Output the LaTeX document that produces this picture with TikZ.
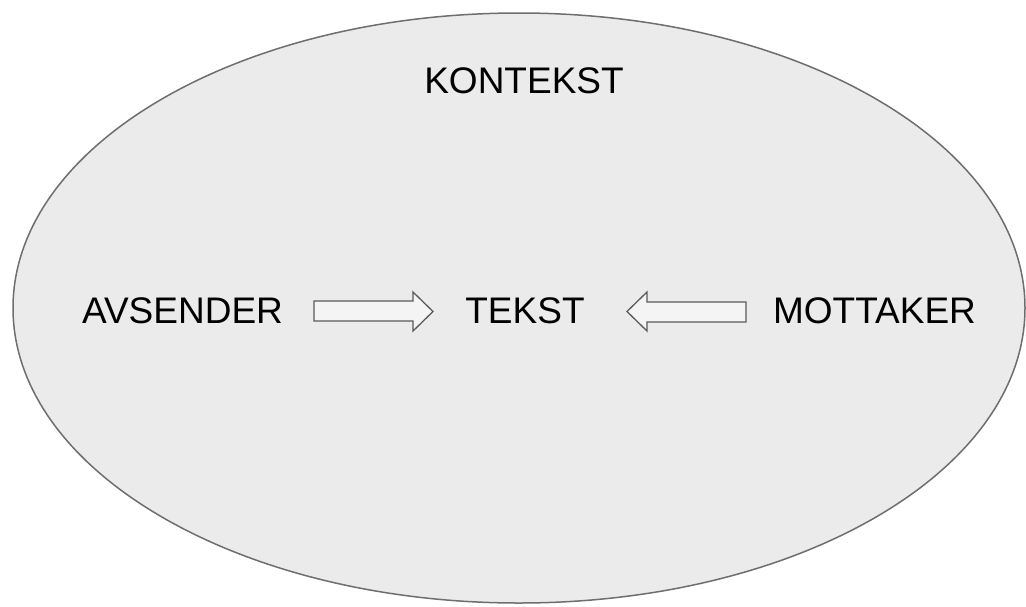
\documentclass[tikz,border=0pt]{standalone}
\usepackage{fontspec}
\setmainfont{Liberation Sans}
\definecolor{ctxfill}{HTML}{EBEBEB}
\definecolor{ctxline}{HTML}{6E6E6E}
\definecolor{arrfill}{HTML}{F4F4F4}
\definecolor{arrline}{HTML}{5A5A5A}
\begin{document}
\begin{tikzpicture}[x=1pt,y=-1pt,
  label text/.style={inner sep=0pt, font=\fontsize{37}{40}\selectfont},
  blockarrow/.style={draw=arrline, fill=arrfill, line width=1.3pt, line join=miter}]
  \useasboundingbox (0,0) rectangle (1026,606);
  % context ellipse
  \draw[fill=ctxfill, draw=ctxline, line width=1.5pt] (519,308) ellipse [x radius=506, y radius=295];
  % labels
  \node[label text] (kontekst) at (524,80.5) {KONTEKST};
  \node[label text] (avsender) at (182.5,310.5) {AVSENDER};
  \node[label text] (tekst) at (525,310.5) {TEKST};
  \node[label text] (mottaker) at (874.5,310.5) {MOTTAKER};
  % block arrows pointing toward the text
  \draw[blockarrow] (314,301) -- (413,301) -- (413,292) -- (433,311.5) -- (413,331) -- (413,321) -- (314,321) -- cycle;
  \draw[blockarrow] (746,302) -- (647,302) -- (647,292) -- (627,311.5) -- (647,331) -- (647,322) -- (746,322) -- cycle;
\end{tikzpicture}
\end{document}
